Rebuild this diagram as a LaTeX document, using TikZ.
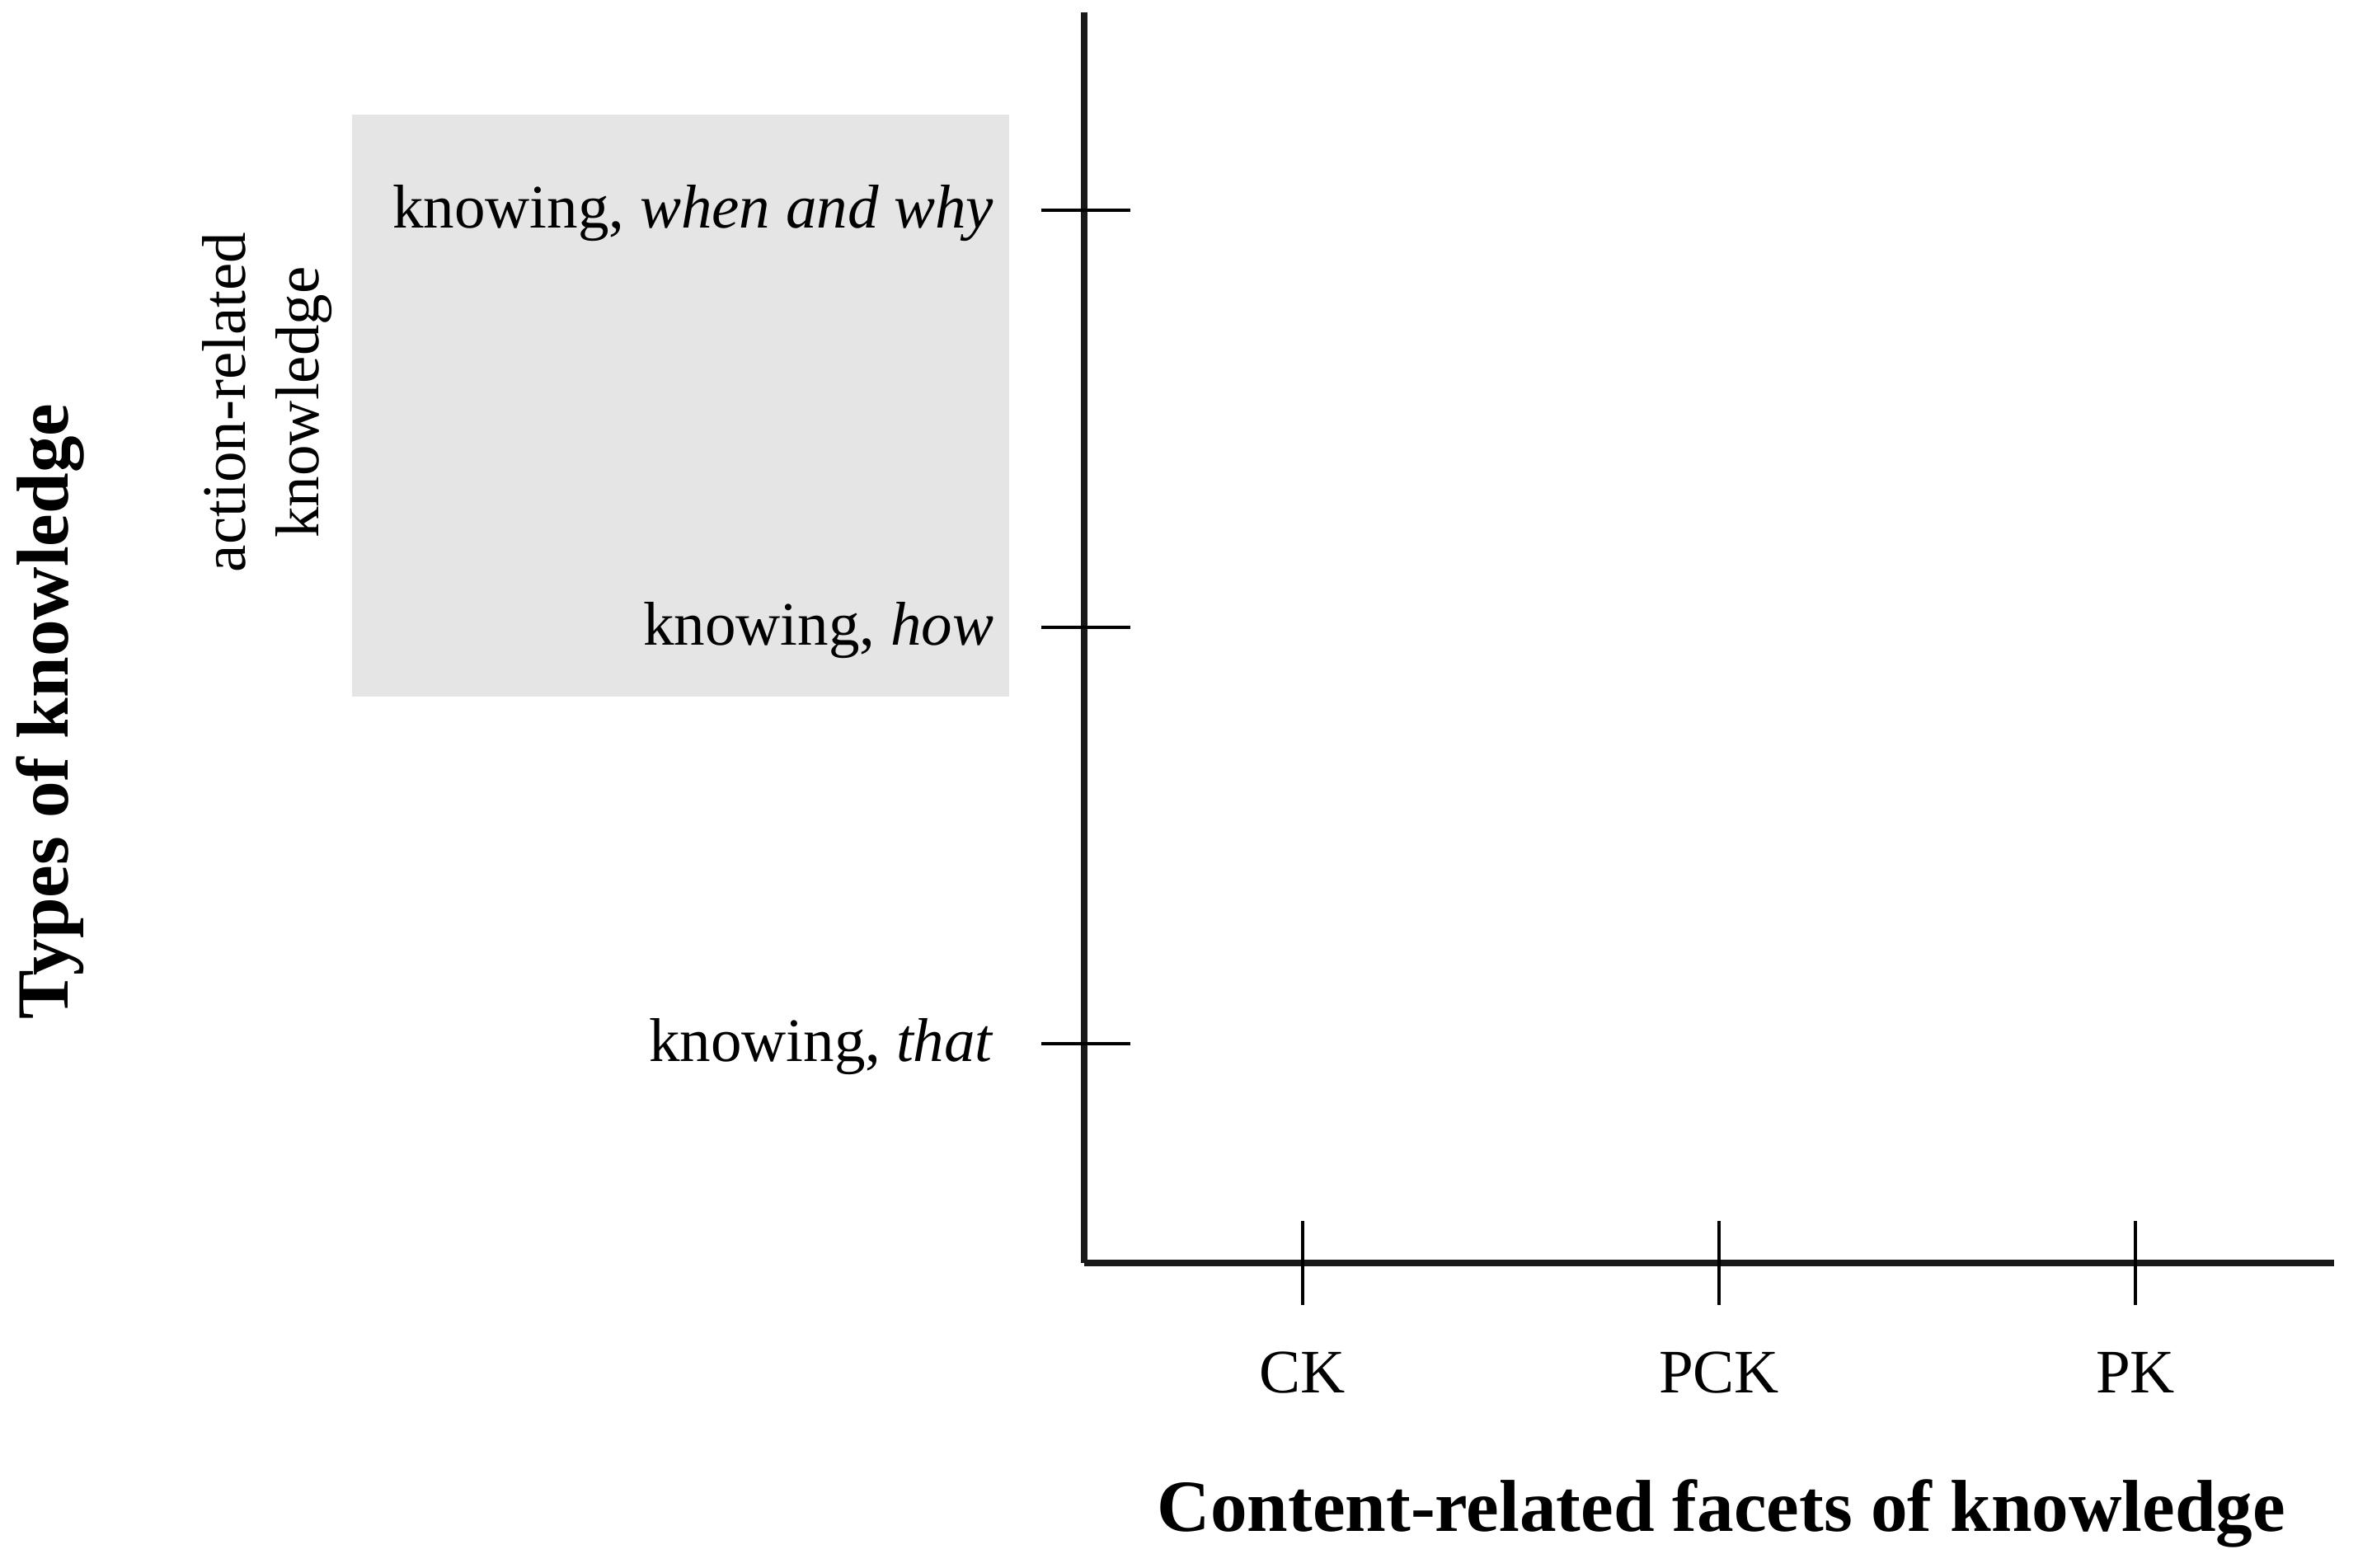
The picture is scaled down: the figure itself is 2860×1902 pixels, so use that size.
\documentclass[tikz,border=0pt]{standalone}
\usepackage{fontspec}
\setmainfont{Liberation Serif}
\begin{document}
\begin{tikzpicture}[x=0.25pt,y=-0.25pt,
  axis/.style={line width=1.9pt,color=black!90},
  ytick/.style={line width=1pt},
  xtick/.style={line width=0.8pt},
  lbl/.style={inner sep=0pt,font=\fontsize{18.75}{22.5}\selectfont},
  ttl/.style={inner sep=0pt,font=\fontsize{22.3}{26}\selectfont\bfseries},
  shade/.style={fill=black!10,draw=none}]
\useasboundingbox (0,0) rectangle (2860,1902);
% shaded region
\fill[shade] (427,139) rectangle (1224,845);
% axes
\coordinate (top) at (1315,15);
\coordinate (origin) at (1315,1532);
\coordinate (right) at (2831,1532);
\draw[axis] (top) -- (origin);
\draw[axis] (origin) -- (right);
% y ticks
\coordinate (y1a) at (1263,255);  \coordinate (y1b) at (1371,255);
\coordinate (y2a) at (1263,761);  \coordinate (y2b) at (1371,761);
\coordinate (y3a) at (1263,1266); \coordinate (y3b) at (1371,1266);
\draw[ytick] (y1a) -- (y1b);
\draw[ytick] (y2a) -- (y2b);
\draw[ytick] (y3a) -- (y3b);
% x ticks
\coordinate (x1a) at (1580,1481); \coordinate (x1b) at (1580,1583);
\coordinate (x2a) at (2085,1481); \coordinate (x2b) at (2085,1583);
\coordinate (x3a) at (2590,1481); \coordinate (x3b) at (2590,1583);
\draw[xtick] (x1a) -- (x1b);
\draw[xtick] (x2a) -- (x2b);
\draw[xtick] (x3a) -- (x3b);
% y labels
\node[lbl,anchor=base east] (kwhen) at (1206,277) {knowing, \textit{when and why}};
\node[lbl,anchor=base east] (khow) at (1206,783) {knowing, \textit{how}};
\node[lbl,anchor=base east] (kthat) at (1206,1288) {knowing, \textit{that}};
% x labels
\node[lbl,anchor=base] (ck) at (1580,1689) {CK};
\node[lbl,anchor=base] (pck) at (2085,1689) {PCK};
\node[lbl,anchor=base] (pk) at (2590,1689) {PK};
% titles
\node[ttl,anchor=base] (xtitle) at (2088,1857) {Content-related facets of knowledge};
\node[ttl,anchor=base,rotate=90] (ytitle) at (82,863) {Types of knowledge};
\node[lbl,anchor=base,rotate=90] (act1) at (297,488) {action-related};
\node[lbl,anchor=base,rotate=90] (act2) at (386,488) {knowledge};
\end{tikzpicture}
\end{document}
